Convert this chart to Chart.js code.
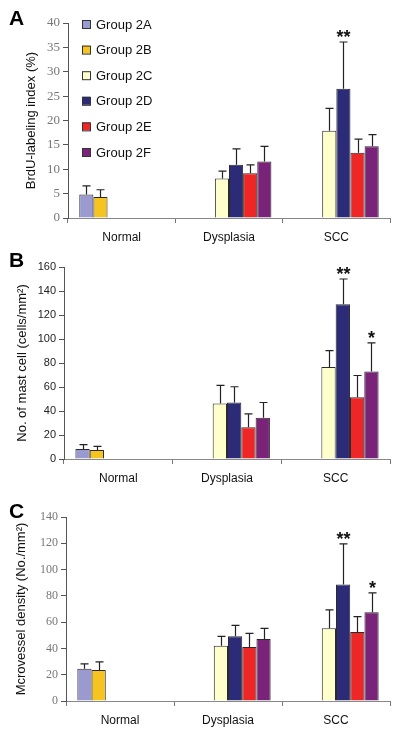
<!DOCTYPE html>
<html>
<head>
<meta charset="utf-8">
<script src="https://cdn.jsdelivr.net/npm/chart.js@4.4.1/dist/chart.umd.min.js"></script>
<style>
  body { margin: 0; background: #fff; width: 400px; height: 736px; position: relative; overflow: hidden; }
  .panel { position: absolute; left: 0; width: 400px; }
  .letter { position: absolute; left: 9px; font: bold 21px "Liberation Sans", Arial, sans-serif; color: #000; }
</style>
</head>
<body>
<div class="panel" style="top:0;height:245px"><canvas id="chartA"></canvas></div>
<div class="panel" style="top:245px;height:245px"><canvas id="chartB"></canvas></div>
<div class="panel" style="top:490px;height:246px"><canvas id="chartC"></canvas></div>
<div class="letter" style="top:6px">A</div>
<div class="letter" style="top:248px">B</div>
<div class="letter" style="top:499px">C</div>
<script>
const categories = ['Normal', 'Dysplasia', 'SCC'];
const groups = ['Group 2A', 'Group 2B', 'Group 2C', 'Group 2D', 'Group 2E', 'Group 2F'];
const groupColors = ['#9a9ad0', '#f6c420', '#ffffcc', '#2b2b78', '#ee2626', '#7a2479'];

// BrdU-labeling index (%), one row per group: Normal, Dysplasia, SCC
const brduMean = [
    [4.8, null, null],
    [4.3, null, null],
    [null, 8.1, 17.9],
    [null, 10.9, 26.5],
    [null, 9.2, 13.4],
    [null, 11.6, 14.7]
];
const brduSd = [
    [1.8, null, null],
    [1.5, null, null],
    [null, 1.5, 4.6],
    [null, 3.3, 9.6],
    [null, 1.7, 2.8],
    [null, 3.1, 2.4]
];
const brduStars = [['', '', ''], ['', '', ''], ['', '', ''], ['', '', '**'], ['', '', ''], ['', '', '']];

// mast cells (cells/mm2)
const mastMean = [
    [8.4, null, null],
    [7.5, null, null],
    [null, 46.2, 76.6],
    [null, 47.1, 129],
    [null, 26.5, 51.5],
    [null, 34.3, 73]
];
const mastSd = [
    [3.6, null, null],
    [3.1, null, null],
    [null, 15.1, 13.7],
    [null, 13.1, 21],
    [null, 11.1, 18.1],
    [null, 12.8, 23.7]
];
const mastStars = [['', '', ''], ['', '', ''], ['', '', ''], ['', '', '**'], ['', '', ''], ['', '', '*']];

// microvessel density (No./mm2)
const mvdMean = [
    [24.6, null, null],
    [23.6, null, null],
    [null, 42.1, 55.3],
    [null, 49.2, 88.6],
    [null, 41.1, 52.5],
    [null, 47.2, 67.5]
];
const mvdSd = [
    [3.6, null, null],
    [6.1, null, null],
    [null, 7.1, 14],
    [null, 8.4, 30.9],
    [null, 10.4, 11.7],
    [null, 8.1, 14.7]
];
const mvdStars = [['', '', ''], ['', '', ''], ['', '', ''], ['', '', '**'], ['', '', ''], ['', '', '*']];

// draws upper error bars + significance stars
const errorBarPlugin = {
    id: 'errorBars',
    afterDatasetsDraw(chart, args, opts) {
        const ctx = chart.ctx;
        const yScale = chart.scales.y;
        ctx.save();
        ctx.strokeStyle = '#222';
        ctx.lineWidth = 1.2;
        chart.data.datasets.forEach((ds, i) => {
            const meta = chart.getDatasetMeta(i);
            ds.data.forEach((v, j) => {
                if (v == null) return;
                const sd = opts.sd[i][j];
                const bar = meta.data[j];
                const x = Math.round(bar.x) + 0.5;
                const yTop = yScale.getPixelForValue(v + sd);
                ctx.beginPath();
                ctx.moveTo(x, yScale.getPixelForValue(v));
                ctx.lineTo(x, yTop);
                ctx.moveTo(x - 4, yTop);
                ctx.lineTo(x + 4, yTop);
                ctx.stroke();
                const star = opts.stars[i][j];
                if (star) {
                    ctx.fillStyle = '#111';
                    ctx.font = 'bold 18px "Liberation Sans", Arial, sans-serif';
                    ctx.textAlign = 'center';
                    ctx.textBaseline = 'alphabetic';
                    ctx.fillText(star, x, yTop + 1);
                }
            });
        });
        ctx.restore();
    }
};

// legend drawn inside the plot area of panel A
const innerLegendPlugin = {
    id: 'innerLegend',
    afterDraw(chart, args, opts) {
        if (!opts.show) return;
        const ctx = chart.ctx;
        ctx.save();
        ctx.font = '13px "Liberation Sans", Arial, sans-serif';
        ctx.textBaseline = 'middle';
        ctx.textAlign = 'left';
        chart.data.datasets.forEach((ds, i) => {
            const cy = opts.y + i * opts.step;
            ctx.fillStyle = ds.backgroundColor;
            ctx.fillRect(opts.x, cy - 4, 8, 8);
            ctx.strokeStyle = '#333';
            ctx.lineWidth = 1;
            ctx.strokeRect(opts.x + 0.5, cy - 3.5, 8, 8);
            ctx.fillStyle = '#111';
            ctx.fillText(ds.label, opts.x + 14, cy + 1);
        });
        ctx.restore();
    }
};

function makePanel(id, means, sds, stars, p) {
    const datasets = groups.map((g, i) => ({
        label: g,
        data: means[i],
        backgroundColor: groupColors[i],
        borderColor: '#2a2a2a',
        borderWidth: 1,
        borderSkipped: 'start'
    }));
    return new Chart(document.getElementById(id), {
        type: 'bar',
        data: { labels: categories, datasets },
        plugins: [errorBarPlugin, innerLegendPlugin],
        options: {
            responsive: true,
            maintainAspectRatio: false,
            animation: false,
            datasets: { bar: { barPercentage: 1, categoryPercentage: 0.79 } },
            layout: { padding: { left: 0, right: 10, top: p.top, bottom: 0 } },
            plugins: {
                legend: { display: false },
                tooltip: { enabled: false },
                errorBars: { sd: sds, stars: stars },
                innerLegend: { show: !!p.legend, x: 82, y: 24, step: 25.6 }
            },
            scales: {
                x: {
                    afterFit: s => { s.height = p.xHeight; },
                    grid: { display: true, offset: true, drawOnChartArea: false, drawTicks: true, tickLength: 5, color: '#777' },
                    border: { display: true, color: '#888', width: 1 },
                    ticks: { color: '#111', padding: 7, font: { family: '"Liberation Sans", Arial, sans-serif', size: 12 } }
                },
                y: {
                    min: 0,
                    max: p.max,
                    afterFit: s => { s.width = p.yWidth; },
                    grid: { display: true, drawOnChartArea: false, drawTicks: true, tickLength: 5, color: '#555' },
                    border: { display: true, color: '#555', width: 1 },
                    ticks: { stepSize: p.step, padding: 3, color: p.tickColor, font: { family: p.tickFamily, size: p.tickSize } },
                    title: {
                        display: true,
                        text: p.title,
                        color: '#111',
                        padding: { top: p.titlePad, bottom: 0 },
                        font: { family: '"Liberation Sans", Arial, sans-serif', size: 13 }
                    }
                }
            }
        }
    });
}

makePanel('chartA', brduMean, brduSd, brduStars, {
    top: 23, xHeight: 27, yWidth: 68, max: 40, step: 5, legend: true,
    title: 'BrdU-labeling index (%)', titlePad: 24,
    tickColor: '#777', tickFamily: '"Liberation Serif", "Times New Roman", serif', tickSize: 13
});
makePanel('chartB', mastMean, mastSd, mastStars, {
    top: 22, xHeight: 31, yWidth: 64, max: 160, step: 20,
    title: 'No. of mast cell (cells/mm²)', titlePad: 15,
    tickColor: '#222', tickFamily: '"Liberation Sans", Arial, sans-serif', tickSize: 11
});
makePanel('chartC', mvdMean, mvdSd, mvdStars, {
    top: 27, xHeight: 35, yWidth: 66, max: 140, step: 20,
    title: 'Mcrovessel density (No./mm²)', titlePad: 14,
    tickColor: '#777', tickFamily: '"Liberation Serif", "Times New Roman", serif', tickSize: 12
});
</script>
</body>
</html>
